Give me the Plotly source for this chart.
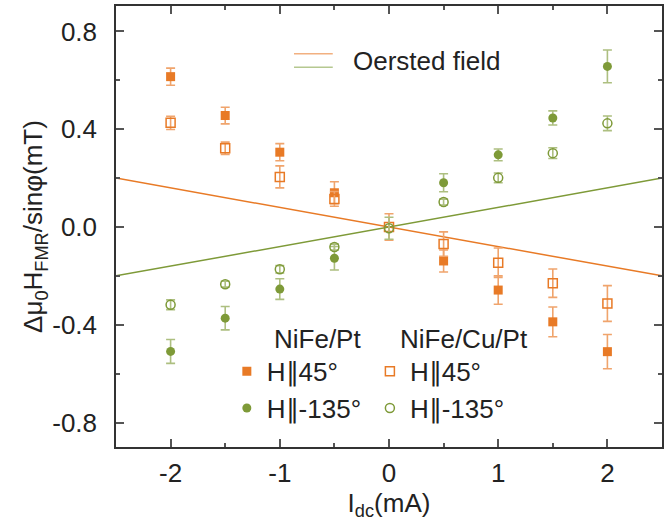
import plotly.graph_objects as go

# ---------------- data ----------------
x_all = [-2, -1.5, -1, -0.5, 0, 0.5, 1, 1.5, 2]
x_nz = [-2, -1.5, -1, -0.5, 0.5, 1, 1.5, 2]

# NiFe/Pt, H || 45 deg (filled squares)
pt45_y = [0.615, 0.456, 0.306, 0.140, -0.139, -0.258, -0.388, -0.510]
pt45_err = [0.035, 0.034, 0.035, 0.045, 0.045, 0.058, 0.061, 0.070]

# NiFe/Pt, H || -135 deg (filled circles)
pt135_y = [-0.509, -0.373, -0.254, -0.128, 0.181, 0.295, 0.446, 0.657]
pt135_err = [0.049, 0.048, 0.042, 0.048, 0.037, 0.024, 0.029, 0.067]

# NiFe/Cu/Pt, H || 45 deg (open squares)
cu45_y = [0.426, 0.322, 0.205, 0.115, 0.0, -0.070, -0.146, -0.230, -0.313]
cu45_err = [0.027, 0.025, 0.045, 0.030, 0.054, 0.050, 0.060, 0.058, 0.073]

# NiFe/Cu/Pt, H || -135 deg (open circles)
cu135_y = [-0.318, -0.234, -0.173, -0.082, -0.005, 0.102, 0.201, 0.302, 0.424]
cu135_err = [0.020, 0.012, 0.015, 0.012, 0.045, 0.012, 0.020, 0.022, 0.030]

# Oersted field lines
oe_x = [-2.5, 2.5]
oe_45 = [0.2, -0.2]
oe_135 = [-0.2, 0.2]

x_ticks = [-2, -1, 0, 1, 2]
x_labels = ["-2", "-1", "0", "1", "2"]
y_ticks = [-0.8, -0.4, 0.0, 0.4, 0.8]
y_labels = ["-0.8", "-0.4", "0.0", "0.4", "0.8"]

# ---------------- style ----------------
ORANGE = "#E87A26"
GREEN = "#7E9A38"
ORANGE_ERR = "#F0A46C"
GREEN_ERR = "#ADBF80"
FONT = "Liberation Sans Narrow, Arial Narrow, Liberation Sans, Arial, sans-serif"
FS = 26

fig = go.Figure()

fig.add_trace(go.Scatter(x=oe_x, y=oe_45, mode="lines",
                         line=dict(color=ORANGE, width=1.5), showlegend=False))
fig.add_trace(go.Scatter(x=oe_x, y=oe_135, mode="lines",
                         line=dict(color=GREEN, width=1.5), showlegend=False))

def err(vals, color):
    return dict(type="data", array=vals, color=color, thickness=1.6, width=4.5)

fig.add_trace(go.Scatter(x=x_nz, y=pt45_y, mode="markers", name="H\u222545\u00b0",
                         marker=dict(symbol="square", size=9, color=ORANGE),
                         error_y=err(pt45_err, ORANGE_ERR), legend="legend"))
fig.add_trace(go.Scatter(x=x_nz, y=pt135_y, mode="markers", name="H\u2225-135\u00b0",
                         marker=dict(symbol="circle", size=9, color=GREEN),
                         error_y=err(pt135_err, GREEN_ERR), legend="legend"))
fig.add_trace(go.Scatter(x=x_all, y=cu45_y, mode="markers", name="H\u222545\u00b0",
                         marker=dict(symbol="square-open", size=9, color=ORANGE,
                                     line=dict(width=1.5)),
                         error_y=err(cu45_err, ORANGE_ERR), legend="legend2"))
fig.add_trace(go.Scatter(x=x_all, y=cu135_y, mode="markers", name="H\u2225-135\u00b0",
                         marker=dict(symbol="circle-open", size=9, color=GREEN,
                                     line=dict(width=1.5)),
                         error_y=err(cu135_err, GREEN_ERR), legend="legend2"))

axis_common = dict(
    showline=True, linecolor="#333333", linewidth=1.5, mirror="allticks",
    ticks="inside", ticklen=8, tickwidth=1.5, tickcolor="#555555",
    showgrid=False, zeroline=False,
    tickfont=dict(family=FONT, size=FS, color="#222222"),
)

fig.update_layout(
    width=671, height=528,
    margin=dict(l=116, r=9, t=4, b=81),
    paper_bgcolor="white", plot_bgcolor="white",
    font=dict(family=FONT, size=FS, color="#222222"),
    xaxis=dict(range=[-2.5, 2.5], tickvals=x_ticks, ticktext=x_labels,
               minor=dict(dtick=0.5, ticklen=4, tickwidth=1.5, tickcolor="#555555", ticks="inside"),
               ticklabelstandoff=2,
               title=dict(text="I<sub>dc</sub>(mA)", font=dict(family=FONT, size=FS),
                          standoff=6),
               **axis_common),
    yaxis=dict(range=[-0.9, 0.904], tickvals=y_ticks, ticktext=y_labels,
               minor=dict(dtick=0.2, tick0=0, ticklen=4, tickwidth=1.5, tickcolor="#555555", ticks="inside"),
               ticklabelstandoff=12,
               title=dict(text="\u0394\u03bc<sub>0</sub>H<sub>FMR</sub>/sin\u03c6(mT)",
                          font=dict(family=FONT, size=FS), standoff=2),
               **axis_common),
    legend=dict(x=0.203, y=0.225, xanchor="left", yanchor="top",
                bgcolor="rgba(0,0,0,0)", font=dict(family=FONT, size=FS),
                itemwidth=30, tracegroupgap=0),
    legend2=dict(x=0.465, y=0.225, xanchor="left", yanchor="top",
                 bgcolor="rgba(0,0,0,0)", font=dict(family=FONT, size=FS),
                 itemwidth=30, tracegroupgap=0),
    annotations=[
        dict(text="NiFe/Pt", xref="paper", yref="paper", x=0.286, y=0.246,
             xanchor="left", yanchor="middle", showarrow=False,
             font=dict(family=FONT, size=FS)),
        dict(text="NiFe/Cu/Pt", xref="paper", yref="paper", x=0.516, y=0.246,
             xanchor="left", yanchor="middle", showarrow=False,
             font=dict(family=FONT, size=FS)),
        dict(text="Oersted field", xref="paper", yref="paper", x=0.430, y=0.876,
             xanchor="left", yanchor="middle", showarrow=False,
             font=dict(family=FONT, size=FS)),
    ],
    shapes=[
        dict(type="line", xref="paper", yref="paper", x0=0.326, x1=0.397, y0=0.892, y1=0.892,
             line=dict(color="#F2B080", width=1.5)),
        dict(type="line", xref="paper", yref="paper", x0=0.326, x1=0.397, y0=0.861, y1=0.861,
             line=dict(color="#B5C890", width=1.5)),
    ],
)

fig.write_html("out.html", config={"displayModeBar": False},
               post_script="document.body.style.margin='0';")
